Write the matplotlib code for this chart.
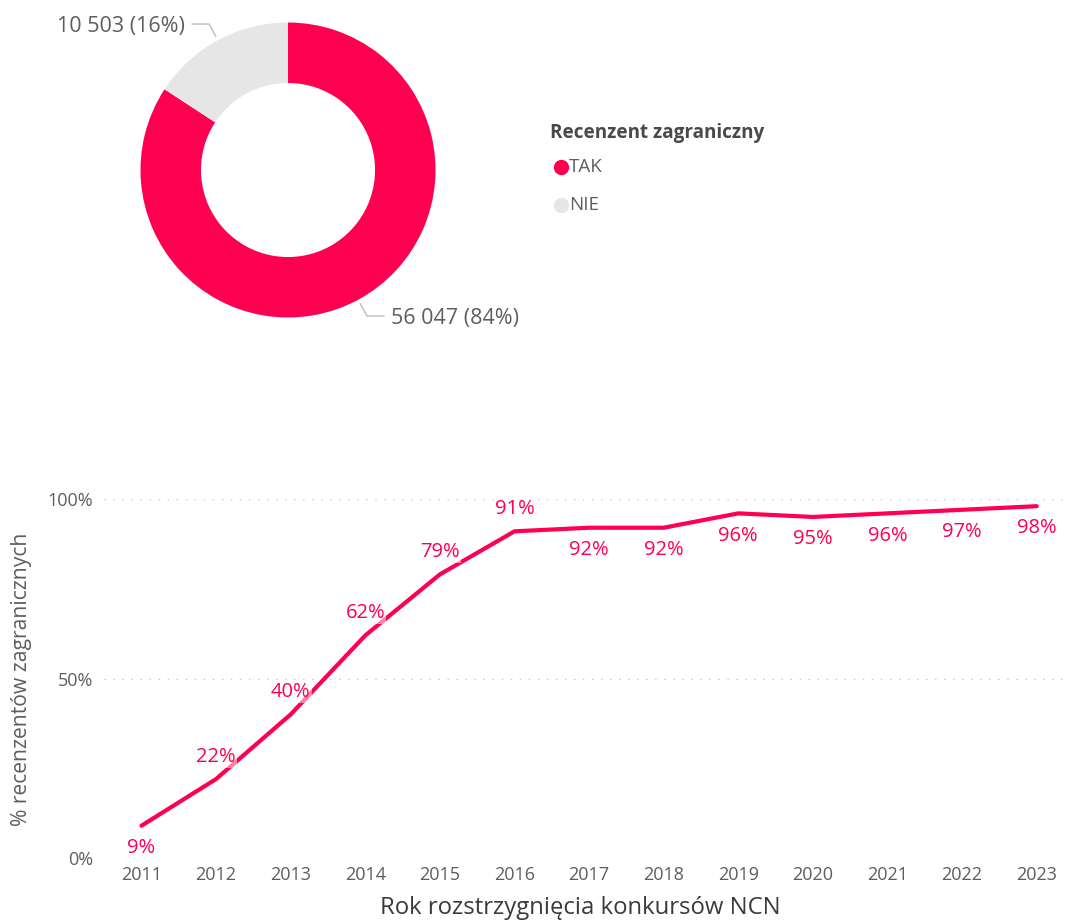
import numpy as np
import matplotlib
matplotlib.use("Agg")
import matplotlib.pyplot as plt
from matplotlib.lines import Line2D

plt.rcParams['font.family'] = ['Open Sans', 'DejaVu Sans']

# ---------------- data ----------------
donut_labels = ["TAK", "NIE"]
donut_counts = [56047, 10503]
donut_pct = [84, 16]

years = [2011, 2012, 2013, 2014, 2015, 2016, 2017, 2018, 2019, 2020, 2021, 2022, 2023]
share = [9, 22, 40, 62, 79, 91, 92, 92, 96, 95, 96, 97, 98]
label_side = ["below", "above", "above", "above", "above", "above",
              "below", "below", "below", "below", "below", "below", "below"]
yticks = [0, 50, 100]

RED = "#FF0050"
GRAY = "#E6E6E6"
TXT = "#605E5C"
DARK = "#3B3A39"

W, H = 1067, 921
fig = plt.figure(figsize=(W / 100, H / 100), dpi=100)

# ---------------- donut ----------------
cx, cy, R = 288, 170, 147.5
axp = fig.add_axes([(cx - R) / W, 1 - (cy + R) / H, 2 * R / W, 2 * R / H])
wedges, _ = axp.pie(donut_counts, colors=[RED, GRAY], startangle=90, counterclock=False,
                    radius=1.0, wedgeprops=dict(width=0.41, edgecolor="none"))
axp.set_xlim(-1, 1)
axp.set_ylim(-1, 1)
axp.set_aspect("equal")
axp.axis("off")

for w, cnt, pct in zip(wedges, donut_counts, donut_pct):
    ang = np.deg2rad((w.theta1 + w.theta2) / 2)
    ca, sa = np.cos(ang), np.sin(ang)
    p0 = (1.03 * ca, 1.03 * sa)
    p1 = (1.125 * ca, 1.125 * sa)
    sgn = 1 if ca >= 0 else -1
    p2 = (p1[0] + sgn * 0.115, p1[1])
    axp.add_line(Line2D([p0[0], p1[0], p2[0]], [p0[1], p1[1], p2[1]],
                        color="#BDBDBD", lw=1.0, clip_on=False))
    txt = f"{cnt:,}".replace(",", " ") + f" ({pct}%)"
    axp.text(p2[0] + sgn * 0.05, p2[1] - 0.015, txt, ha="left" if sgn > 0 else "right",
             va="center", fontsize=15.5, color=TXT, clip_on=False)

# legend
fig.text(550 / W, 1 - 133 / H, "Recenzent zagraniczny", fontsize=13.6, fontweight="bold",
         color="#4A4948", ha="left", va="center")
for i, (lab, col) in enumerate(zip(donut_labels, [RED, GRAY])):
    yy = 1 - (167 + 38 * i) / H
    fig.lines.append(Line2D([561 / W], [yy], marker="o", markersize=10, color=col,
                            markeredgecolor=col, transform=fig.transFigure, linestyle="none"))
    fig.text(569 / W, yy, lab, fontsize=13.5, color=TXT, ha="left", va="center")

# ---------------- line chart ----------------
x0, x1 = 104.2, 1074.0
ax = fig.add_axes([x0 / W, 1 - 858 / H, (x1 - x0) / W, (858 - 499) / H])
ax.plot(years, share, color=RED, lw=3.0, solid_capstyle="round", solid_joinstyle="round",
        clip_on=False, zorder=3)
ax.set_xlim(2010.5, 2023.5)
ax.set_ylim(0, 100)
ax.set_xticks(years)
ax.set_xticklabels([str(y) for y in years])
ax.set_yticks(yticks)
ax.set_yticklabels([f"{v}%" for v in yticks])
ax.tick_params(axis="both", length=0, labelcolor=TXT, labelsize=13)
ax.tick_params(axis="x", pad=6)
ax.tick_params(axis="y", pad=8)
for s in ax.spines.values():
    s.set_visible(False)
ax.grid(axis="y", color="#C8C8C8", lw=1.0, linestyle=(0, (1, 5.5)))
ax.set_axisbelow(True)

for x, v, side in zip(years, share, label_side):
    off = 16 if side == "above" else -16
    ax.annotate(f"{v}%", (x, v), xytext=(0, off), textcoords="offset points",
                ha="center", va="center", fontsize=14.5, color=RED, clip_on=False,
                zorder=4,
                bbox=dict(boxstyle="square,pad=0.05", fc="white", ec="none", alpha=0.5))

fig.text(580 / W, 1 - 908 / H, "Rok rozstrzygnięcia konkursów NCN", fontsize=17.2,
         color=DARK, ha="center", va="center")
fig.text(22 / W, 1 - 679 / H, "% recenzentów zagranicznych", fontsize=15.2, color=TXT,
         ha="center", va="center", rotation=90)

fig.savefig("out.png", dpi=100, facecolor="white")
